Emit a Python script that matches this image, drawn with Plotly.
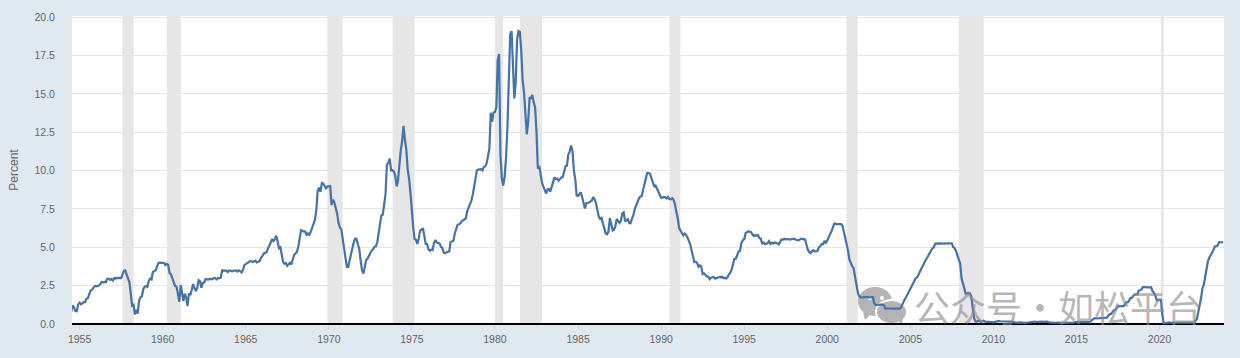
import plotly.graph_objects as go
import pandas as pd

first_month = "1954-07-01"
rates_1950s = [
    0.80, 1.22, 1.07, 0.85, 0.83, 1.28,
    1.39, 1.29, 1.35, 1.43, 1.43, 1.64, 1.68, 1.96, 2.18, 2.24, 2.35, 2.48,
    2.45, 2.50, 2.50, 2.62, 2.75, 2.71, 2.75, 2.73, 2.95, 2.96, 2.88, 2.94,
    2.84, 3.00, 2.96, 3.00, 3.00, 3.00, 2.99, 3.24, 3.47, 3.50, 3.28, 2.98,
    2.72, 1.67, 1.20, 1.26, 0.63, 0.93, 0.68, 1.53, 1.76, 1.80, 2.27, 2.42,
    2.48, 2.43, 2.80, 2.96, 2.90, 3.39, 3.47, 3.50, 3.76, 3.98, 4.00, 3.99,
]
rates_1960s = [
    3.99, 3.97, 3.84, 3.92, 3.85, 3.32, 3.23, 2.98, 2.60, 2.47, 2.44, 1.98,
    1.45, 2.54, 2.02, 1.50, 1.98, 1.73, 1.17, 2.00, 1.88, 2.26, 2.61, 2.33,
    2.15, 2.37, 2.85, 2.78, 2.36, 2.68, 2.71, 2.93, 2.90, 2.90, 2.94, 2.93,
    2.92, 3.00, 2.98, 2.90, 3.00, 2.99, 3.02, 3.49, 3.48, 3.50, 3.48, 3.38,
    3.48, 3.48, 3.43, 3.47, 3.50, 3.50, 3.42, 3.50, 3.45, 3.36, 3.52, 3.85,
    3.90, 3.98, 4.04, 4.09, 4.10, 4.04, 4.09, 4.12, 4.01, 4.08, 4.10, 4.32,
    4.42, 4.60, 4.65, 4.67, 4.90, 5.17, 5.30, 5.53, 5.40, 5.53, 5.76, 5.40,
    4.94, 5.00, 4.53, 4.05, 3.94, 3.98, 3.79, 3.90, 3.99, 3.88, 4.13, 4.51,
    4.60, 4.71, 5.05, 5.76, 6.12, 6.07, 6.02, 6.03, 5.78, 5.91, 5.82, 6.02,
    6.30, 6.61, 6.79, 7.41, 8.67, 8.90, 8.61, 9.19, 9.15, 9.00, 8.85, 8.97,
]
rates_1970s = [
    8.98, 8.98, 7.76, 8.10, 7.94, 7.60, 7.21, 6.61, 6.29, 6.20, 5.60, 4.90,
    4.14, 3.72, 3.71, 4.16, 4.63, 4.91, 5.31, 5.56, 5.55, 5.20, 4.91, 4.14,
    3.50, 3.29, 3.83, 4.17, 4.27, 4.46, 4.55, 4.80, 4.87, 5.04, 5.06, 5.33,
    5.94, 6.58, 7.09, 7.12, 7.84, 8.49, 10.40, 10.50, 10.78, 10.01, 10.03, 9.95,
    9.65, 8.97, 9.35, 10.51, 11.31, 11.93, 12.92, 12.01, 11.34, 10.06, 9.45, 8.53,
    7.13, 6.24, 5.54, 5.49, 5.22, 5.55, 6.10, 6.14, 6.24, 5.82, 5.22, 5.20,
    4.87, 4.77, 4.84, 4.82, 5.29, 5.48, 5.31, 5.29, 5.25, 5.02, 4.95, 4.65,
    4.61, 4.68, 4.69, 4.73, 5.35, 5.39, 5.42, 5.90, 6.14, 6.47, 6.51, 6.56,
    6.70, 6.78, 6.79, 6.89, 7.36, 7.60, 7.81, 8.04, 8.45, 8.96, 9.76, 10.03,
    10.07, 10.06, 10.09, 10.01, 10.24, 10.29, 10.47, 10.94, 11.43, 13.77, 13.18, 13.78,
]
rates_1980s = [
    13.82, 14.13, 17.19, 17.61, 10.98, 9.47, 9.03, 9.61, 10.87, 12.81, 15.85, 18.90,
    19.08, 15.93, 14.70, 15.72, 18.52, 19.10, 19.04, 17.82, 15.87, 15.08, 13.31, 12.37,
    13.22, 14.78, 14.68, 14.94, 14.45, 14.15, 12.59, 10.12, 10.31, 9.71, 9.20, 8.95,
    8.68, 8.51, 8.77, 8.80, 8.63, 8.98, 9.37, 9.56, 9.45, 9.48, 9.34, 9.47,
    9.56, 9.59, 9.91, 10.29, 10.32, 11.06, 11.23, 11.64, 11.30, 9.99, 9.43, 8.38,
    8.35, 8.50, 8.58, 8.27, 7.97, 7.53, 7.88, 7.90, 7.92, 7.99, 8.05, 8.27,
    8.14, 7.86, 7.48, 6.99, 6.85, 6.92, 6.56, 6.17, 5.89, 5.85, 6.04, 6.91,
    6.43, 6.10, 6.13, 6.37, 6.85, 6.73, 6.58, 6.73, 7.22, 7.29, 6.69, 6.77,
    6.83, 6.58, 6.58, 6.87, 7.09, 7.51, 7.75, 8.01, 8.19, 8.30, 8.35, 8.76,
    9.12, 9.36, 9.85, 9.84, 9.81, 9.53, 9.24, 8.99, 9.02, 8.84, 8.55, 8.45,
]
rates_1990s = [
    8.23, 8.24, 8.28, 8.26, 8.18, 8.29, 8.15, 8.13, 8.20, 8.11, 7.81, 7.31,
    6.91, 6.25, 6.12, 5.91, 5.78, 5.90, 5.82, 5.66, 5.45, 5.21, 4.81, 4.43,
    4.03, 4.06, 3.98, 3.73, 3.82, 3.76, 3.25, 3.30, 3.22, 3.10, 3.09, 2.92,
    3.02, 3.03, 3.07, 2.96, 3.00, 3.04, 3.06, 3.03, 3.09, 2.99, 3.02, 2.96,
    3.05, 3.25, 3.34, 3.56, 4.01, 4.25, 4.26, 4.47, 4.73, 4.76, 5.29, 5.45,
    5.53, 5.92, 5.98, 6.05, 6.01, 6.00, 5.85, 5.74, 5.80, 5.76, 5.80, 5.60,
    5.56, 5.22, 5.31, 5.22, 5.24, 5.27, 5.40, 5.22, 5.30, 5.24, 5.31, 5.29,
    5.25, 5.19, 5.39, 5.51, 5.50, 5.56, 5.52, 5.54, 5.54, 5.50, 5.52, 5.50,
    5.56, 5.51, 5.49, 5.45, 5.49, 5.56, 5.54, 5.55, 5.51, 5.07, 4.83, 4.68,
    4.63, 4.76, 4.81, 4.74, 4.74, 4.76, 4.99, 5.07, 5.22, 5.20, 5.42, 5.30,
]
rates_2000s = [
    5.45, 5.73, 5.85, 6.02, 6.27, 6.53, 6.54, 6.50, 6.52, 6.51, 6.51, 6.40,
    5.98, 5.49, 5.31, 4.80, 4.21, 3.97, 3.77, 3.65, 3.07, 2.49, 2.09, 1.82,
    1.73, 1.74, 1.73, 1.75, 1.75, 1.75, 1.73, 1.74, 1.75, 1.75, 1.34, 1.24,
    1.24, 1.26, 1.25, 1.26, 1.26, 1.22, 1.01, 1.03, 1.01, 1.01, 1.00, 0.98,
    1.00, 1.01, 1.00, 1.00, 1.00, 1.03, 1.26, 1.43, 1.61, 1.76, 1.93, 2.16,
    2.28, 2.50, 2.63, 2.79, 3.00, 3.04, 3.26, 3.50, 3.62, 3.78, 4.00, 4.16,
    4.29, 4.49, 4.59, 4.79, 4.94, 4.99, 5.24, 5.25, 5.25, 5.25, 5.25, 5.24,
    5.25, 5.26, 5.26, 5.25, 5.25, 5.25, 5.26, 5.02, 4.94, 4.76, 4.49, 4.24,
    3.94, 2.98, 2.61, 2.28, 1.98, 2.00, 2.01, 2.00, 1.81, 0.97, 0.39, 0.16,
    0.15, 0.22, 0.18, 0.15, 0.18, 0.21, 0.16, 0.16, 0.15, 0.12, 0.12, 0.12,
]
rates_2010s = [
    0.11, 0.13, 0.16, 0.20, 0.20, 0.18, 0.18, 0.19, 0.19, 0.19, 0.19, 0.18,
    0.17, 0.16, 0.14, 0.10, 0.09, 0.09, 0.07, 0.10, 0.08, 0.07, 0.08, 0.07,
    0.08, 0.10, 0.13, 0.14, 0.16, 0.16, 0.16, 0.13, 0.14, 0.16, 0.16, 0.16,
    0.14, 0.15, 0.14, 0.15, 0.11, 0.09, 0.09, 0.08, 0.08, 0.09, 0.08, 0.09,
    0.07, 0.07, 0.08, 0.09, 0.09, 0.10, 0.09, 0.09, 0.09, 0.09, 0.09, 0.12,
    0.11, 0.11, 0.11, 0.12, 0.12, 0.13, 0.13, 0.14, 0.14, 0.12, 0.12, 0.24,
    0.34, 0.38, 0.36, 0.37, 0.37, 0.38, 0.39, 0.40, 0.40, 0.40, 0.41, 0.54,
    0.65, 0.66, 0.79, 0.90, 0.91, 1.04, 1.15, 1.16, 1.15, 1.15, 1.16, 1.30,
    1.41, 1.42, 1.51, 1.69, 1.70, 1.82, 1.91, 1.91, 1.95, 2.19, 2.20, 2.27,
    2.40, 2.40, 2.41, 2.42, 2.39, 2.38, 2.40, 2.13, 2.04, 1.83, 1.55, 1.55,
]
rates_2020s = [
    1.55, 1.58, 0.65, 0.05, 0.05, 0.08, 0.09, 0.10, 0.09, 0.09, 0.09, 0.09,
    0.09, 0.08, 0.07, 0.07, 0.06, 0.08, 0.10, 0.09, 0.08, 0.08, 0.08, 0.08,
    0.08, 0.08, 0.20, 0.33, 0.77, 1.21, 1.68, 2.33, 2.56, 3.08, 3.78, 4.10,
    4.33, 4.57, 4.65, 4.83, 5.06, 5.08, 5.12, 5.33, 5.33, 5.33, 5.33,
]
recession_starts = ["1957-08-01", "1960-04-01", "1969-12-01", "1973-11-01", "1980-01-01",
                    "1981-07-01", "1990-07-01", "2001-03-01", "2007-12-01", "2020-02-01"]
recession_ends = ["1958-04-01", "1961-02-01", "1970-11-01", "1975-03-01", "1980-07-01",
                  "1982-11-01", "1991-03-01", "2001-11-01", "2009-06-01", "2020-04-01"]
y_ticks = [0, 2.5, 5, 7.5, 10, 12.5, 15, 17.5, 20]
x_ticks = ["1955", "1960", "1965", "1970", "1975", "1980", "1985", "1990", "1995", "2000", "2005", "2010", "2015", "2020"]
y_title = "Percent"
watermark = "公众号·如松平台"

rates = rates_1950s + rates_1960s + rates_1970s + rates_1980s + rates_1990s + rates_2000s + rates_2010s + rates_2020s
months = pd.date_range(first_month, periods=len(rates), freq="MS")

PLOT_L, PLOT_R, PLOT_T, PLOT_B = 72, 1224, 16, 324


def px(x):
    return (x - PLOT_L) / (PLOT_R - PLOT_L)


def py(y):
    return (PLOT_B - y) / (PLOT_B - PLOT_T)


def blob(x0, x1, y0, y1, color):
    return dict(type="circle", xref="paper", yref="paper", x0=px(x0), x1=px(x1), y0=py(y1), y1=py(y0),
                fillcolor=color, line_width=0, layer="below")


def tail(points, color):
    path = "M " + " L ".join(f"{px(a)} {py(b)}" for a, b in points) + " Z"
    return dict(type="path", xref="paper", yref="paper", path=path, fillcolor=color, line_width=0, layer="below")


ICON = "#b4b4b4"
fig = go.Figure(go.Scatter(x=months, y=rates, mode="lines", line=dict(color="#4572a7", width=2.2), hoverinfo="skip"))

shapes = [dict(type="rect", xref="x", yref="paper", x0=s, x1=e, y0=0, y1=1, fillcolor="#e6e6e6", line_width=0, layer="below")
          for s, e in zip(recession_starts, recession_ends)]
shapes += [
    blob(858, 892, 287, 316, ICON),
    tail([(862, 308), (872, 313), (865, 320)], ICON),
    blob(868, 872, 296, 300, "#ffffff"),
    blob(880, 884, 296, 300, "#ffffff"),
    blob(875, 908, 299, 325, "#ffffff"),
    blob(877, 906, 301, 323, ICON),
    tail([(896, 318), (903, 316), (902, 325)], ICON),
]

fig.update_layout(
    width=1240, height=358,
    margin=dict(l=PLOT_L, r=1240 - PLOT_R, t=PLOT_T, b=358 - PLOT_B),
    paper_bgcolor="#e1e9f0", plot_bgcolor="#ffffff",
    showlegend=False,
    shapes=shapes,
    font=dict(family="Liberation Sans, Arial, sans-serif", size=10.5, color="#666666"),
    xaxis=dict(type="date", range=["1954-07-18", "2023-11-18"], tickvals=[f"{y}-01-01" for y in x_ticks], ticktext=x_ticks,
               showgrid=False, zeroline=False, showline=False, ticks="outside", ticklen=5, tickcolor="#ccd6eb", tickwidth=1,
               tickfont=dict(size=10.5, color="#666666")),
    yaxis=dict(range=[0, 20.08], tickvals=y_ticks, ticktext=[f"{v:.1f}" for v in y_ticks], gridcolor="#e6e6e6", gridwidth=1,
               zeroline=True, zerolinecolor="#000000", zerolinewidth=2, showline=False, ticks="outside", ticklen=14, tickcolor="rgba(0,0,0,0)",
               tickfont=dict(size=10.5, color="#666666"),
               title=dict(text=y_title, standoff=13, font=dict(size=12, color="#666666"))),
    annotations=[dict(text=watermark, xref="paper", yref="paper", x=px(912), y=py(306),
                      xanchor="left", yanchor="middle", showarrow=False,
                      font=dict(family="Noto Sans CJK SC", size=36, color="rgba(140,140,140,0.65)"))],
)

fig.write_html("out.html", config={"displayModeBar": False}, post_script="document.body.style.margin='0';")
